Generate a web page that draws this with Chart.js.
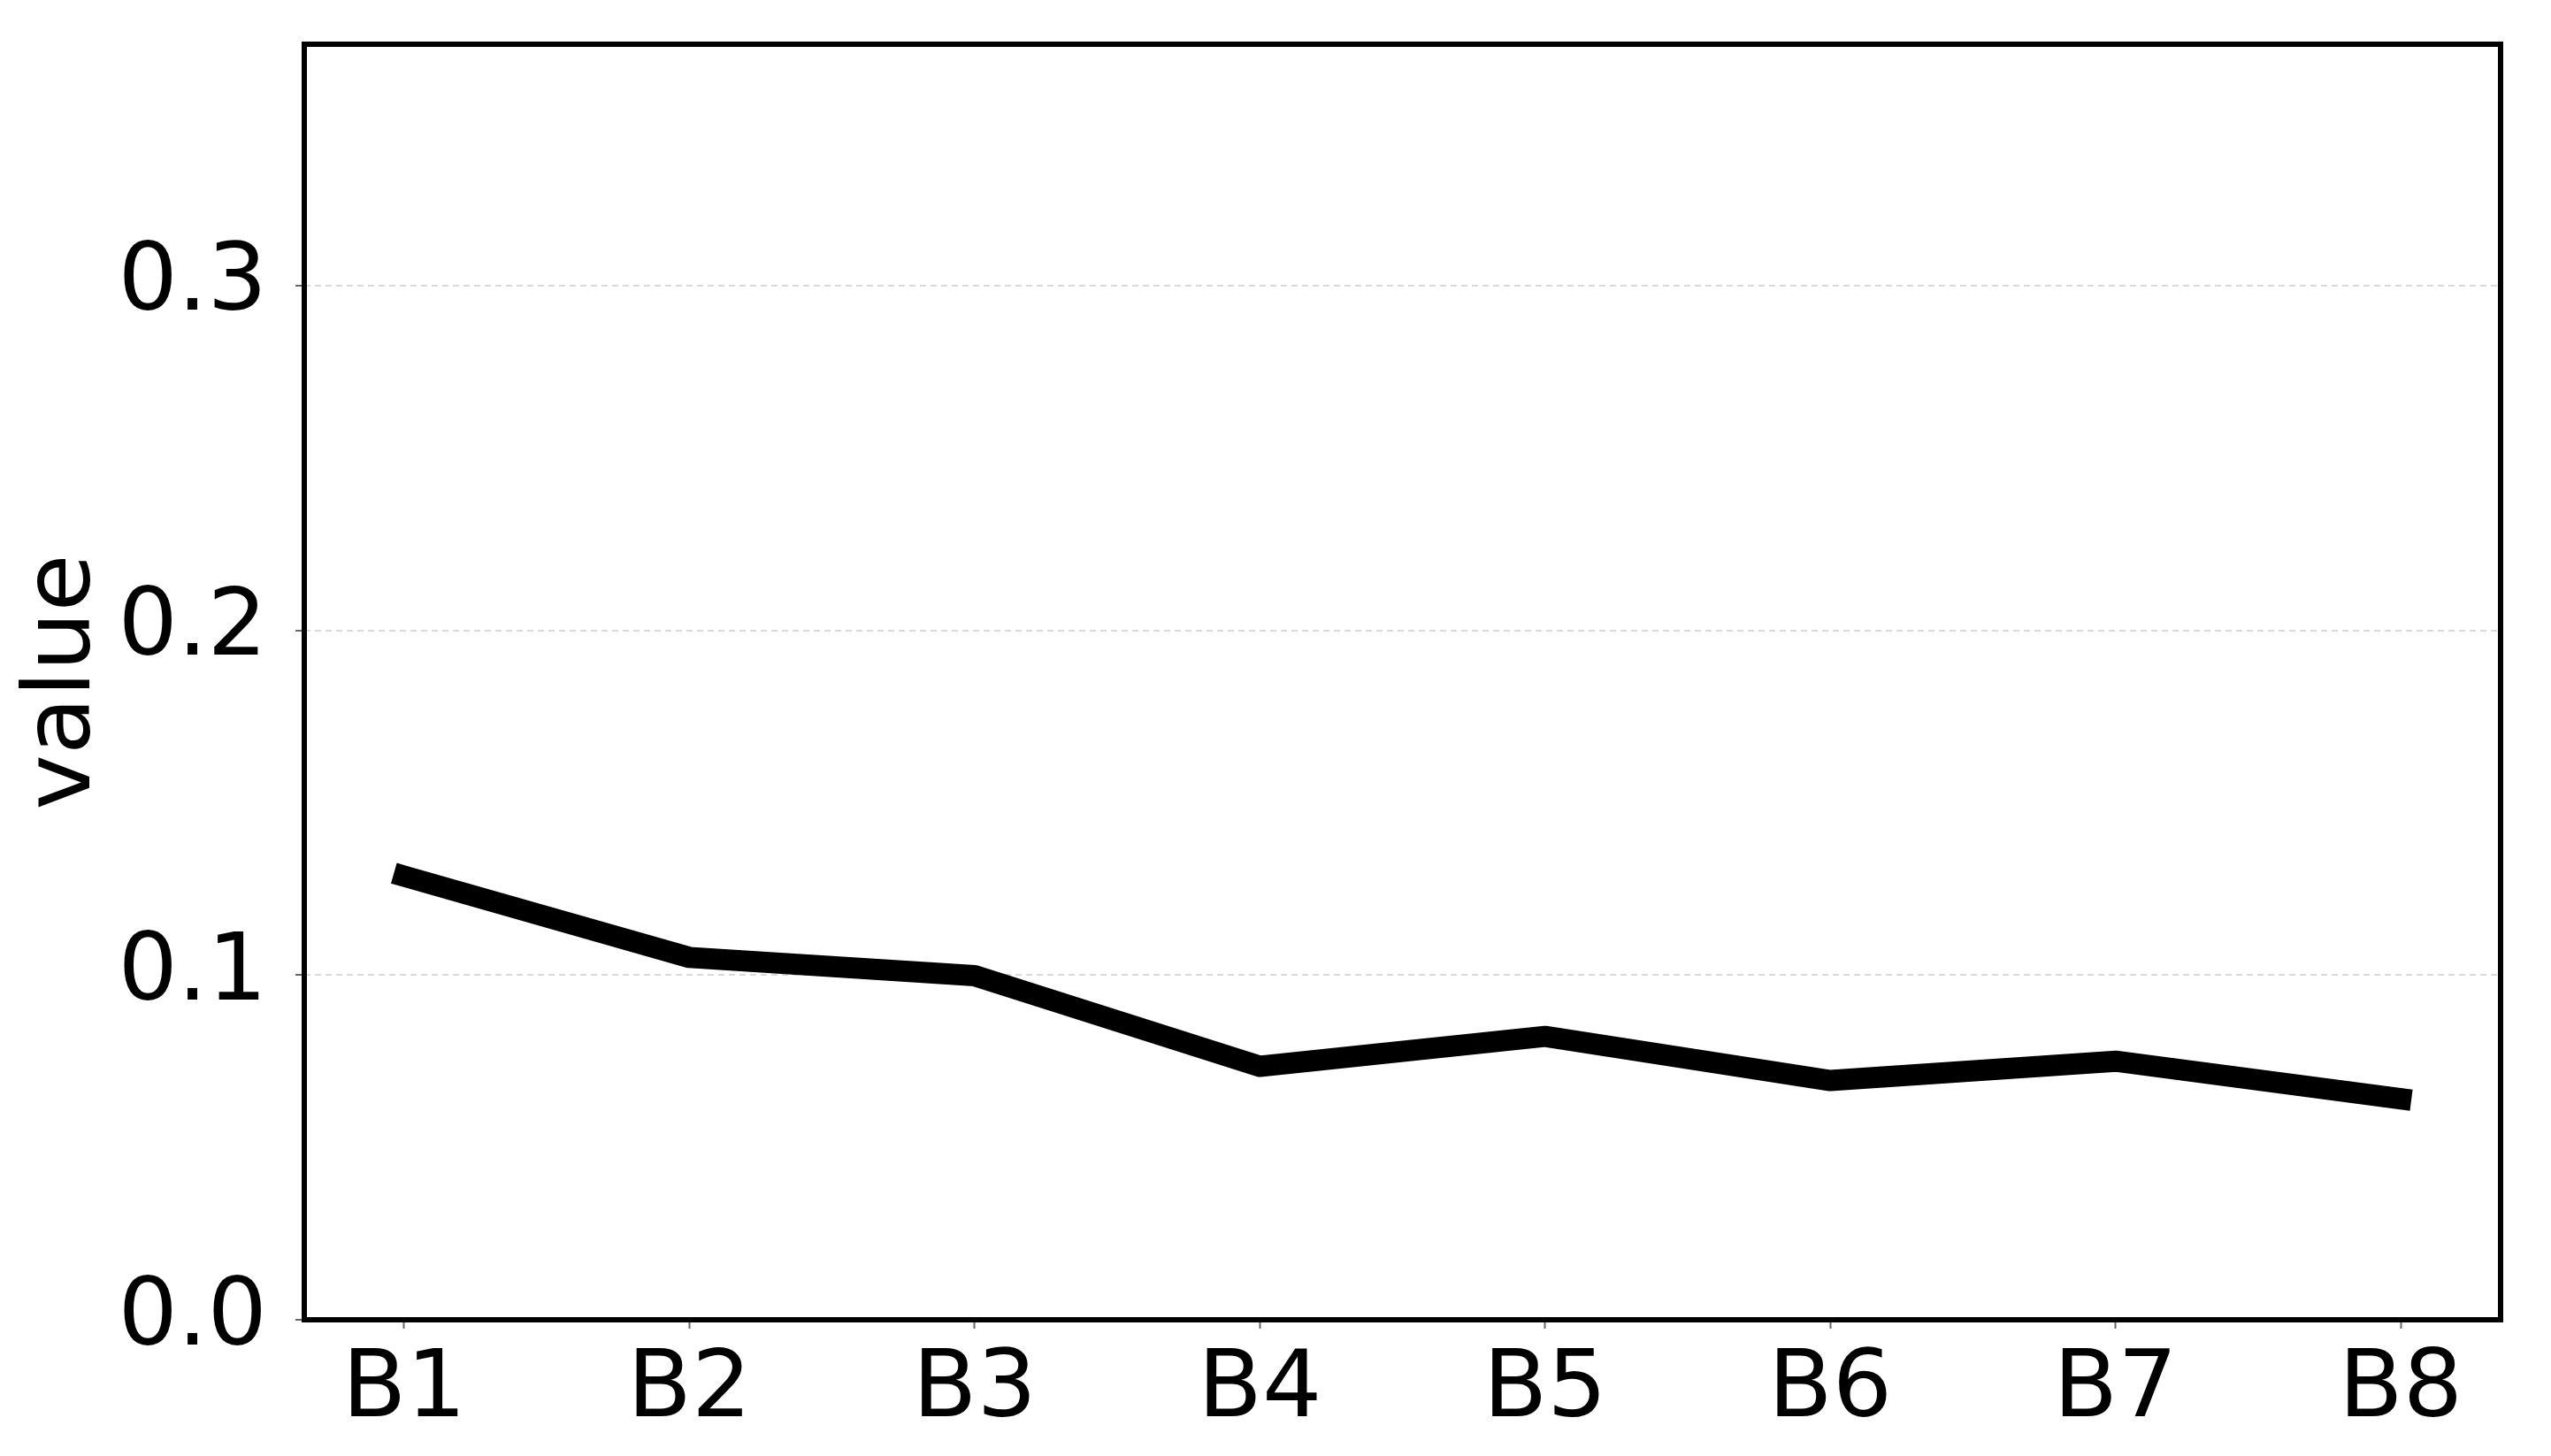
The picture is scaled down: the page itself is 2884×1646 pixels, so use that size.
<!DOCTYPE html>
<html>
<head>
<meta charset="utf-8">
<script src="https://cdn.jsdelivr.net/npm/chart.js@4.4.1/dist/chart.umd.min.js"></script>
<style>
  html, body { margin: 0; padding: 0; background: #fff; }
  canvas { display: block; }
</style>
</head>
<body>
<canvas id="grafico" width="2884" height="1646"></canvas>
<script>
const categorias = ['B1', 'B2', 'B3', 'B4', 'B5', 'B6', 'B7', 'B8'];
const valores = [0.1287, 0.1051, 0.0998, 0.0735, 0.0822, 0.0694, 0.0750, 0.0641];
const ticksY = [0.0, 0.1, 0.2, 0.3];

document.addEventListener('DOMContentLoaded', () => {
const ctx = document.getElementById('grafico').getContext('2d');

// moldura preta em volta da area do grafico
const moldura = {
  id: 'moldura',
  afterDraw(chart) {
    const a = chart.chartArea;
    const c = chart.ctx;
    c.save();
    c.strokeStyle = '#000';
    c.lineWidth = 6;
    c.strokeRect(a.left, a.top, a.right - a.left, a.bottom - a.top);
    c.restore();
  }
};

const fonte = { family: 'DejaVu Sans', size: 106 };

new Chart(ctx, {
  type: 'line',
  data: {
    datasets: [{
      label: 'value',
      data: valores.map((v, i) => ({ x: i, y: v })),
      borderColor: '#000',
      borderWidth: 24,
      borderCapStyle: 'square',
      borderJoinStyle: 'round',
      pointRadius: 0,
      fill: false,
      tension: 0
    }]
  },
  options: {
    responsive: false,
    animation: false,
    layout: { padding: { left: 0, top: 50, right: 57, bottom: 0 } },
    plugins: { legend: { display: false }, tooltip: { enabled: false } },
    scales: {
      x: {
        type: 'linear',
        min: -0.35,
        max: 7.35,
        afterFit: s => { s.height = 154; s.paddingLeft = 0; s.paddingRight = 0; },
        afterBuildTicks: s => { s.ticks = categorias.map((_, i) => ({ value: i })); },
        grid: { drawOnChartArea: false, tickLength: 10, tickColor: '#666', tickWidth: 2 },
        border: { display: false },
        ticks: {
          color: '#000',
          font: fonte,
          padding: 8,
          maxRotation: 0,
          callback: v => categorias[v]
        }
      },
      y: {
        min: 0,
        max: 0.37,
        afterFit: s => { s.width = 344; s.paddingTop = 0; s.paddingBottom = 0; },
        afterBuildTicks: s => { s.ticks = ticksY.map(v => ({ value: v })); },
        grid: { color: '#d9d9d9', lineWidth: 2, tickLength: 10, tickColor: '#666', tickWidth: 2 },
        border: { display: false, dash: [7, 5] },
        ticks: {
          color: '#000',
          font: fonte,
          padding: 32,
          callback: v => v.toFixed(1)
        },
        title: {
          display: true,
          text: 'value',
          color: '#000',
          font: fonte,
          padding: { top: 10, bottom: 0 }
        }
      }
    }
  },
  plugins: [moldura]
});
});
</script>
</body>
</html>
